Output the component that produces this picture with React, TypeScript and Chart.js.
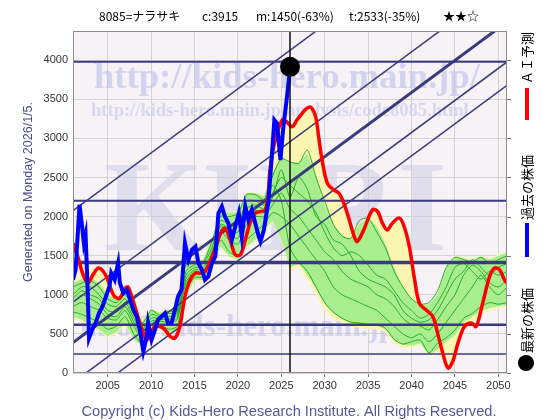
import { useEffect, useRef } from "react";
import { Chart, registerables } from "chart.js";
Chart.register(...registerables);

// ---------- text ----------
const TITLE_PARTS = ["8085=ナラサキ", "c:3915", "m:1450(-63%)", "t:2533(-35%)", "★★☆"];
const LEFT_NOTE = "Generated on Monday 2026/1/5.";
const COPYRIGHT = "Copyright (c) Kids-Hero Research Institute. All Rights Reserved.";
const LEGEND_LABELS = ["ＡＩ予測", "過去の株価", "最新の株価"];
const WM_URL = "http://kids-hero.main.jp/";
const WM_URL2 = "http://kids-hero.main.jp/analysis/code8085.html";
const WM_BIG = "KHRI";
const WM_MAIL = "info@kids-hero.main.jp";

// ---------- axes ----------
const X_MIN = 2001;
const X_MAX = 2051;
const Y_MIN = 0;
const Y_MAX = 4373;
const X_TICKS = [2005, 2010, 2015, 2020, 2025, 2030, 2035, 2040, 2045, 2050];
const Y_TICKS = [0, 500, 1000, 1500, 2000, 2500, 3000, 3500, 4000];

// ---------- envelope / scenario data (yearly) ----------
const ENV_YEARS = [
  2001, 2002, 2003, 2004, 2005, 2006, 2007, 2008, 2009, 2010,
  2011, 2012, 2013, 2014, 2015, 2016, 2017, 2018, 2019, 2020,
  2021, 2022, 2023, 2024, 2025, 2026, 2027, 2028, 2029, 2030,
  2031, 2032, 2033, 2034, 2035, 2036, 2037, 2038, 2039, 2040,
  2041, 2042, 2043, 2044, 2045, 2046, 2047, 2048, 2049, 2050,
  2051,
];
const GREEN_UP = [
  1150, 1200, 1220, 1150, 1000, 950, 1060, 820, 660, 820,
  770, 810, 820, 1400, 1420, 1450, 1700, 2050, 2050, 2060,
  2300, 2300, 2260, 2560, 2760, 2700, 2690, 2800, 2520, 2150,
  1900, 1760, 1710, 1900, 1990, 1870, 1650, 1350, 1100, 950,
  860, 880, 1000, 1350, 1480, 1460, 1440, 1490, 1450, 1500,
  1540,
];
const GREEN_LO = [
  720, 680, 600, 560, 470, 520, 640, 430, 340, 470,
  600, 510, 560, 980, 1190, 1190, 1320, 1620, 1490, 1450,
  1620, 1700, 1830, 1950, 1700, 1350, 1400, 1250, 1080, 880,
  760, 690, 640, 620, 600, 600, 560, 420, 360, 350,
  380, 230, 300, 400, 480, 650, 720, 790, 830, 850,
  870,
];
const YELLOW_UP = [
  1660, 1300, 1340, 1340, 1190, 1000, 1100, 850, 680, 820,
  780, 820, 830, 1420, 1430, 1460, 1710, 2060, 2060, 2070,
  2310, 2310, 2270, 2750, 3235, 3170, 3290, 3390, 3250, 2550,
  2345, 2200, 1850, 1900, 2000, 2070, 1860, 1950, 1900, 1380,
  880, 880, 1000, 1360, 1500, 1480, 1460, 1500, 1470, 1520,
  1560,
];
const YELLOW_LO = [
  700, 660, 580, 540, 450, 500, 620, 420, 330, 450,
  580, 450, 540, 960, 1170, 1170, 1300, 1600, 1470, 1430,
  1600, 1680, 1800, 1930, 1680, 1300, 1350, 1200, 1000, 800,
  700, 640, 600, 580, 560, 560, 520, 380, 320, 320,
  360, 220, 280, 90, 240, 570, 620, 760, 800, 820,
  840,
];
const SCEN_1 = [
  1100, 1150, 1180, 1100, 950, 900, 1000, 800, 640, 800,
  740, 790, 800, 1380, 1400, 1420, 1680, 2000, 2000, 2040,
  2280, 2280, 2220, 2520, 2740, 2700, 2680, 2850, 2500, 2200,
  1900, 1750, 1720, 1950, 1980, 1800, 1600, 1300, 1100, 950,
  880, 900, 1050, 1350, 1480, 1450, 1420, 1480, 1400, 1450,
  1500,
];
const SCEN_2 = [
  950, 1050, 1000, 950, 800, 780, 900, 700, 520, 700,
  700, 720, 740, 1250, 1350, 1350, 1550, 1900, 1850, 1800,
  2100, 2150, 2100, 2300, 2500, 2400, 2300, 2200, 2050, 1800,
  1600, 1500, 1550, 1500, 1380, 1250, 1200, 1050, 900, 800,
  700, 750, 900, 1100, 1350, 1400, 1300, 1200, 1300, 1250,
  1300,
];
const SCEN_3 = [
  850, 900, 850, 800, 700, 680, 800, 600, 450, 620,
  660, 650, 680, 1150, 1300, 1280, 1450, 1800, 1700, 1650,
  1900, 2000, 2000, 2150, 2300, 2100, 2000, 1850, 1700, 1550,
  1450, 1300, 1200, 1150, 1100, 1000, 950, 850, 700, 620,
  600, 550, 680, 850, 1000, 1250, 1380, 1300, 1150, 1100,
  1200,
];
const SCEN_4 = [
  780, 750, 700, 650, 560, 600, 720, 500, 380, 540,
  620, 560, 600, 1050, 1220, 1230, 1380, 1700, 1550, 1500,
  1700, 1800, 1900, 2050, 2000, 1900, 1750, 1600, 1450, 1300,
  1100, 1000, 950, 900, 850, 800, 700, 600, 500, 450,
  500, 400, 500, 650, 800, 950, 1100, 1250, 1100, 1000,
  1100,
];
const SCEN_5 = [
  1000, 1100, 1100, 1000, 880, 850, 950, 750, 560, 750,
  720, 760, 770, 1300, 1380, 1400, 1600, 1950, 1900, 1900,
  2200, 2200, 2150, 2400, 2200, 1600, 1420, 1300, 1100, 900,
  780, 700, 650, 640, 620, 620, 570, 430, 370, 400,
  420, 260, 380, 450, 550, 700, 760, 850, 900, 880,
  900,
];
const SCEN_6 = [
  900, 1000, 950, 880, 750, 720, 850, 650, 480, 660,
  680, 690, 700, 1200, 1320, 1320, 1500, 1880, 1780, 1720,
  2000, 2080, 2050, 2250, 2600, 2250, 2500, 2350, 2000, 1900,
  1700, 1650, 1500, 1300, 1200, 1150, 1100, 1000, 800, 700,
  650, 680, 800, 1000, 1200, 1300, 1450, 1350, 1250, 1350,
  1400,
];

// ---------- AI forecast (red) ----------
const RED_YEARS = [
  2001.0, 2001.6, 2002.1, 2002.7, 2003.3, 2003.9, 2004.5, 2005.0, 2005.4, 2005.8,
  2006.4, 2007.0, 2007.35, 2007.7, 2008.3, 2008.9, 2009.45, 2009.85, 2010.4, 2011.0,
  2011.6, 2012.2, 2012.75, 2013.3, 2013.9, 2014.5, 2015.1, 2015.65, 2016.2, 2016.8,
  2017.4, 2018.0, 2018.5, 2019.1, 2019.7, 2020.3, 2020.85, 2021.4, 2022.0, 2022.55,
  2023.15, 2023.5, 2023.7, 2024.3, 2025.1, 2025.6, 2026.25, 2026.8, 2027.4, 2027.95,
  2028.4, 2028.95, 2029.3, 2029.7, 2030.3, 2031.05, 2031.65, 2032.2, 2032.6, 2033.4,
  2033.75, 2034.5, 2035.5, 2036.1, 2036.65, 2037.2, 2037.8, 2038.6, 2039.15, 2039.75,
  2040.3, 2040.9, 2041.65, 2042.45, 2043.0, 2043.6, 2044.2, 2044.75, 2045.35, 2046.1,
  2046.9, 2047.45, 2048.2, 2049.0, 2049.55, 2050.15, 2050.7, 2051.0,
];
const RED_VALUES = [
  1660, 1469, 1277, 1149, 1255, 1341, 1298, 1192, 1064, 978,
  958, 1086, 1098, 1000, 787, 574, 425, 467, 595, 595,
  553, 467, 447, 595, 978, 1192, 1277, 1277, 1298, 1426,
  1596, 1788, 1852, 1703, 1511, 1511, 1703, 1916, 2043, 2064,
  2086, 2300, 2600, 2980, 3235, 3213, 3149, 3235, 3321, 3385,
  3397, 3278, 3022, 2724, 2427, 2341, 2299, 2171, 2043, 1745,
  1681, 1830, 2086, 2064, 1916, 1830, 1916, 1980, 1873, 1617,
  1235, 894, 808, 723, 510, 255, 64, 148, 383, 595,
  638, 595, 894, 1235, 1341, 1320, 1192, 1149,
];

// ---------- past price (blue) ----------
const BLUE_YEARS = [
  2001.0, 2001.3, 2001.75, 2002.05, 2002.25, 2002.45, 2002.65, 2002.85, 2003.2, 2003.6,
  2004.0, 2004.4, 2004.8, 2005.2, 2005.4, 2005.8, 2006.2, 2006.4, 2006.8, 2007.2,
  2007.6, 2007.95, 2008.35, 2008.7, 2009.1, 2009.5, 2009.65, 2010.05, 2010.45, 2010.8,
  2011.2, 2011.6, 2011.95, 2012.35, 2012.75, 2013.1, 2013.5, 2013.9, 2014.3, 2014.7,
  2015.1, 2015.45, 2015.85, 2016.2, 2016.6, 2017.0, 2017.4, 2017.75, 2018.15, 2018.5,
  2018.9, 2019.3, 2019.7, 2020.1, 2020.45, 2020.85, 2021.2, 2021.6, 2022.0, 2022.4,
  2022.6, 2023.0, 2023.35, 2023.5, 2023.9, 2024.2, 2024.5, 2024.9, 2025.2, 2025.65,
  2025.95, 2026.0,
];
const BLUE_VALUES = [
  1192, 1320, 2150, 1872, 1660, 1766, 1192, 447, 553, 638,
  766, 851, 978, 1106, 1277, 1192, 1405, 1149, 1022, 1064,
  936, 808, 723, 553, 276, 467, 638, 425, 553, 681,
  723, 766, 638, 638, 808, 978, 1064, 1660, 1447, 1575,
  1617, 1405, 1320, 1192, 1235, 1405, 1490, 2043, 2128, 2000,
  1916, 1703, 1873, 2043, 1745, 2128, 1958, 2086, 1916, 1745,
  1681, 1830, 2086, 2171, 2766, 3235, 3193, 2724, 3107, 3533,
  3831, 3915,
];

// ---------- reference lines ----------
const H_LEVELS = [3980, 2204, 1412, 617, 243];
const TREND_AT_START = [2076, 907, 389, -123, -422]; // value at X_MIN
const TREND_AT_END = [6176, 5008, 4489, 3977, 3678]; // value at X_MAX
const NOW_YEAR = 2026;
const LATEST_PRICE = 3915;

// ---------- styles ----------
const NAVY = "#3b3b7c";
const H_WIDTHS = [2, 2, 3.5, 2.5, 1.5];
const TREND_WIDTHS = [1.5, 1.5, 3, 1.5, 1.5];
const JP = "'Noto Sans CJK JP', 'Noto Sans', sans-serif";
const SANS = "'Liberation Sans', Arial, sans-serif";
const SERIF = "'Liberation Serif', 'DejaVu Serif', serif";

const pts = (xs: number[], ys: number[]) => xs.map((x, i) => ({ x, y: ys[i] }));

export default function App() {
  const ref = useRef<HTMLCanvasElement>(null);

  useEffect(() => {
    document.body.style.margin = "0";
    const canvas = ref.current;
    if (!canvas) return;

    const hidden = { borderWidth: 0, borderColor: "rgba(0,0,0,0)", pointRadius: 0 };
    const scen = [SCEN_1, SCEN_2, SCEN_3, SCEN_4, SCEN_5, SCEN_6];

    const datasets: any[] = [
      { ...hidden, data: pts(ENV_YEARS, YELLOW_LO), fill: false, order: 20 },
      { ...hidden, data: pts(ENV_YEARS, YELLOW_UP), fill: "-1", backgroundColor: "#fbf5b2", order: 19 },
      { ...hidden, data: pts(ENV_YEARS, GREEN_LO), fill: false, order: 18 },
      { ...hidden, data: pts(ENV_YEARS, GREEN_UP), fill: "-1", backgroundColor: "#a9ee8e", order: 17 },
      ...scen.map((s) => ({
        data: pts(ENV_YEARS, s),
        borderColor: "#26ad26",
        borderWidth: 1,
        pointRadius: 0,
        fill: false,
        tension: 0.25,
        order: 15,
      })),
      ...TREND_AT_START.map((v, i) => ({
        data: [
          { x: X_MIN, y: v },
          { x: X_MAX, y: TREND_AT_END[i] },
        ],
        borderColor: NAVY,
        borderWidth: TREND_WIDTHS[i],
        pointRadius: 0,
        fill: false,
        order: 12,
      })),
      ...H_LEVELS.map((v, i) => ({
        data: [
          { x: X_MIN, y: v },
          { x: X_MAX, y: v },
        ],
        borderColor: NAVY,
        borderWidth: H_WIDTHS[i],
        pointRadius: 0,
        fill: false,
        order: 11,
      })),
      {
        data: pts(RED_YEARS, RED_VALUES),
        borderColor: "#ff0000",
        borderWidth: 3.5,
        pointRadius: 0,
        fill: false,
        tension: 0.35,
        order: 6,
      },
      {
        data: pts(BLUE_YEARS, BLUE_VALUES),
        borderColor: "#0000ff",
        borderWidth: 4,
        pointRadius: 0,
        fill: false,
        tension: 0,
        order: 5,
      },
      {
        data: [
          { x: NOW_YEAR, y: Y_MIN },
          { x: NOW_YEAR, y: Y_MAX },
        ],
        borderColor: "#111111",
        borderWidth: 1.5,
        pointRadius: 0,
        fill: false,
        order: 4,
      },
      {
        data: [{ x: NOW_YEAR, y: LATEST_PRICE }],
        showLine: false,
        pointRadius: 10,
        pointBackgroundColor: "#000000",
        pointBorderColor: "#000000",
        pointBorderWidth: 0,
        order: 1,
      },
    ];

    const fitSize = (ctx: CanvasRenderingContext2D, text: string, width: number, weight: string, family: string) => {
      ctx.font = `${weight} 100px ${family}`;
      return (100 * width) / ctx.measureText(text).width;
    };

    const decor = {
      id: "decor",
      beforeDraw(chart: any) {
        const { ctx, chartArea: a } = chart;
        ctx.save();
        ctx.fillStyle = "#ffffff";
        ctx.fillRect(0, 0, chart.width, chart.height);
        ctx.fillStyle = "#f6f2f6";
        ctx.fillRect(a.left, a.top, a.right - a.left, a.bottom - a.top);
        ctx.restore();
      },
      beforeDatasetsDraw(chart: any) {
        const { ctx, chartArea: a } = chart;
        ctx.save();
        ctx.beginPath();
        ctx.rect(a.left, a.top, a.right - a.left, a.bottom - a.top);
        ctx.clip();
        ctx.textAlign = "left";
        ctx.textBaseline = "alphabetic";
        // big letters
        let fs = fitSize(ctx, WM_BIG, 343, "bold", SERIF);
        ctx.font = `bold ${fs}px ${SERIF}`;
        ctx.fillStyle = "rgba(205,205,228,0.55)";
        ctx.fillText(WM_BIG, 104, 250);
        // url
        fs = fitSize(ctx, WM_URL, 386, "bold", SERIF);
        ctx.font = `bold ${fs}px ${SERIF}`;
        ctx.fillStyle = "rgba(196,196,236,0.7)";
        ctx.fillText(WM_URL, 94, 88);
        fs = fitSize(ctx, WM_URL2, 378, "bold", SERIF);
        ctx.font = `bold ${fs}px ${SERIF}`;
        ctx.fillStyle = "rgba(196,196,236,0.6)";
        ctx.fillText(WM_URL2, 91, 116);
        ctx.font = `bold 31px ${SERIF}`;
        ctx.fillStyle = "rgba(196,196,232,0.65)";
        ctx.fillText(WM_MAIL, 80, 336);
        ctx.restore();
      },
      afterDraw(chart: any) {
        const { ctx, chartArea: a, scales } = chart;
        ctx.save();
        // frame
        ctx.strokeStyle = "#8c8c8c";
        ctx.lineWidth = 1;
        ctx.strokeRect(Math.round(a.left) + 0.5, Math.round(a.top) + 0.5, Math.round(a.right - a.left) - 1, Math.round(a.bottom - a.top) - 1);
        // right tick marks
        ctx.strokeStyle = "#777";
        Y_TICKS.forEach((v) => {
          const y = Math.round(scales.y.getPixelForValue(v)) + 0.5;
          ctx.beginPath();
          ctx.moveTo(a.right, y);
          ctx.lineTo(a.right + 4, y);
          ctx.stroke();
        });
        // title
        ctx.fillStyle = "#000";
        ctx.font = `12px ${JP}`;
        ctx.textBaseline = "middle";
        ctx.textAlign = "left";
        const tx = [99, 202, 256, 349, 443];
        TITLE_PARTS.forEach((t, i) => ctx.fillText(t, tx[i], 16));
        // left note
        ctx.save();
        ctx.translate(29, 192);
        ctx.rotate(-Math.PI / 2);
        ctx.textAlign = "center";
        ctx.fillStyle = "#4a4a8e";
        ctx.font = `12.5px ${SANS}`;
        ctx.fillText(LEFT_NOTE, 0, 0);
        ctx.restore();
        // legend
        const vtext = (t: string, x: number, y: number) => {
          ctx.save();
          ctx.translate(x, y);
          ctx.rotate(-Math.PI / 2);
          ctx.textAlign = "left";
          ctx.textBaseline = "middle";
          ctx.fillStyle = "#000";
          ctx.font = `13px ${JP}`;
          ctx.fillText(t, 0, 0);
          ctx.restore();
        };
        ctx.fillStyle = "#ff0000";
        ctx.fillRect(525, 88, 4, 32);
        vtext(LEGEND_LABELS[0], 527, 84);
        ctx.fillStyle = "#0000ff";
        ctx.fillRect(525, 223, 4, 34);
        vtext(LEGEND_LABELS[1], 527, 220);
        ctx.fillStyle = "#000";
        ctx.beginPath();
        ctx.arc(526, 363, 8, 0, Math.PI * 2);
        ctx.fill();
        vtext(LEGEND_LABELS[2], 527, 353);
        // copyright
        ctx.fillStyle = "#56569c";
        ctx.textAlign = "center";
        ctx.textBaseline = "middle";
        const cs = fitSize(ctx, COPYRIGHT, 415, "normal", SANS);
        ctx.font = `${cs}px ${SANS}`;
        ctx.fillText(COPYRIGHT, 289, 412);
        ctx.restore();
      },
    };

    const chart = new Chart(canvas, {
      type: "line",
      data: { datasets },
      options: {
        animation: false,
        responsive: false,
        devicePixelRatio: 1,
        events: [],
        layout: { padding: { left: 0, right: 53, top: 31, bottom: 24 } },
        plugins: {
          legend: { display: false },
          tooltip: { enabled: false },
          title: { display: false },
        },
        scales: {
          x: {
            type: "linear",
            min: X_MIN,
            max: X_MAX,
            afterBuildTicks: (s: any) => {
              s.ticks = X_TICKS.map((v) => ({ value: v }));
            },
            afterFit: (s: any) => {
              s.height = 23;
            },
            grid: { color: "#d4d4d4", drawTicks: true, tickLength: 4, tickColor: "#777" },
            border: { display: false },
            ticks: {
              padding: 2,
              color: "#333",
              maxRotation: 0,
              autoSkip: false,
              font: { size: 11, family: SANS },
              callback: (v: any) => String(v),
            },
          },
          y: {
            type: "linear",
            min: Y_MIN,
            max: Y_MAX,
            afterBuildTicks: (s: any) => {
              s.ticks = Y_TICKS.map((v) => ({ value: v }));
            },
            afterFit: (s: any) => {
              s.width = 73;
            },
            grid: { color: "#d4d4d4", drawTicks: false },
            border: { display: false },
            ticks: {
              padding: 5,
              color: "#333",
              autoSkip: false,
              font: { size: 11, family: SANS },
              callback: (v: any) => String(v),
            },
          },
        },
      } as any,
      plugins: [decor],
    });

    return () => chart.destroy();
  }, []);

  return (
    <div style={{ width: 560, height: 420, position: "relative" }}>
      <canvas ref={ref} width={560} height={420} style={{ display: "block" }} />
    </div>
  );
}
